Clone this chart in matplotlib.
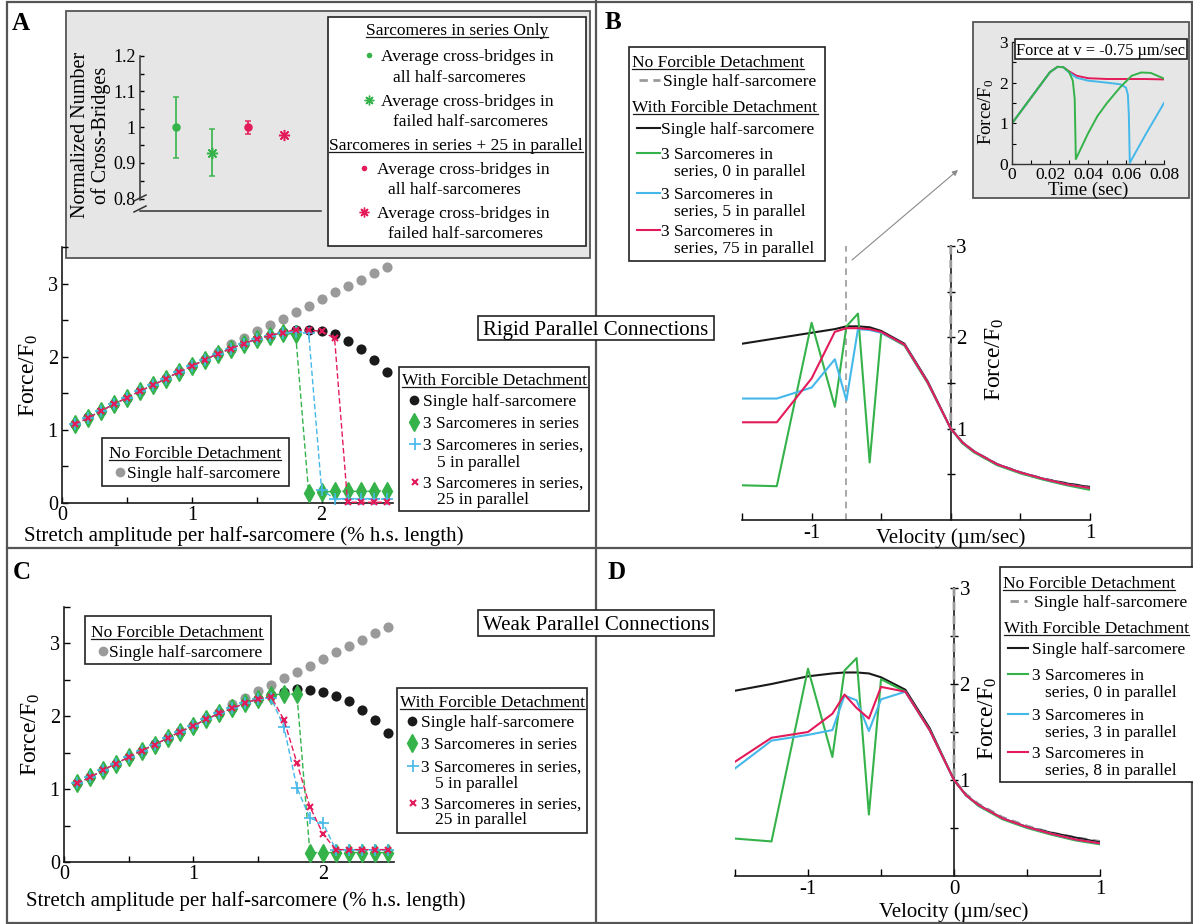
import matplotlib
matplotlib.use("Agg")
import matplotlib.pyplot as plt
from matplotlib.patches import Rectangle

plt.rcParams["font.family"] = ["Liberation Serif", "DejaVu Serif"]
plt.rcParams["mathtext.fontset"] = "custom"
plt.rcParams["mathtext.rm"] = "Liberation Serif"
plt.rcParams["mathtext.it"] = "Liberation Serif:italic"

GRAY = "#9a9a9a"
GREEN = "#35b34a"
CYAN = "#45b8ea"
RED = "#e31b5b"
INK = "#1a1a1a"

# ---- stretch simulations (panels A and C) ----
stretch = [0.1, 0.2, 0.3, 0.4, 0.5, 0.6, 0.7, 0.8, 0.9, 1.0, 1.1, 1.2, 1.3,
           1.4, 1.5, 1.6, 1.7, 1.8, 1.9, 2.0, 2.1, 2.2, 2.3, 2.4, 2.5]

rigid_nofd = [1.08, 1.17, 1.26, 1.35, 1.44, 1.53, 1.62, 1.71, 1.80, 1.88, 1.97, 2.06, 2.17,
              2.25, 2.35, 2.43, 2.52, 2.61, 2.69, 2.79, 2.88, 2.97, 3.05, 3.14, 3.23]
rigid_single = [1.08, 1.17, 1.26, 1.35, 1.44, 1.53, 1.62, 1.70, 1.79, 1.87, 1.96, 2.04, 2.11,
                2.18, 2.24, 2.29, 2.34, 2.37, 2.37, 2.35, 2.31, 2.22, 2.11, 1.96, 1.79]
rigid_series = [1.08, 1.16, 1.26, 1.35, 1.44, 1.53, 1.61, 1.70, 1.79, 1.87, 1.96, 2.04, 2.11,
                2.18, 2.24, 2.29, 2.32, 2.31, 0.14, 0.15, 0.16, 0.16, 0.16, 0.16, 0.17]
rigid_par5 = [1.08, 1.16, 1.26, 1.35, 1.44, 1.53, 1.61, 1.70, 1.79, 1.87, 1.96, 2.04, 2.11,
              2.18, 2.24, 2.29, 2.33, 2.34, 2.33, 0.18, 0.06, 0.06, 0.06, 0.06, 0.06]
rigid_par25 = [1.08, 1.16, 1.26, 1.35, 1.44, 1.53, 1.61, 1.70, 1.79, 1.87, 1.96, 2.04, 2.11,
               2.18, 2.24, 2.29, 2.33, 2.37, 2.36, 2.35, 2.25, 0.01, 0.01, 0.01, 0.01]

weak_nofd = [1.08, 1.17, 1.26, 1.35, 1.44, 1.53, 1.62, 1.71, 1.80, 1.88, 1.97, 2.06, 2.17,
             2.25, 2.35, 2.43, 2.52, 2.61, 2.69, 2.79, 2.88, 2.97, 3.05, 3.14, 3.23]
weak_single = [1.08, 1.17, 1.26, 1.35, 1.44, 1.53, 1.62, 1.70, 1.79, 1.87, 1.96, 2.04, 2.11,
               2.18, 2.24, 2.29, 2.34, 2.37, 2.36, 2.33, 2.28, 2.21, 2.09, 1.95, 1.77]
weak_series = [1.08, 1.16, 1.26, 1.35, 1.44, 1.53, 1.61, 1.70, 1.79, 1.87, 1.96, 2.04, 2.11,
               2.18, 2.24, 2.29, 2.31, 2.30, 0.13, 0.13, 0.13, 0.13, 0.13, 0.13, 0.13]
weak_par5 = [1.08, 1.16, 1.26, 1.35, 1.44, 1.53, 1.61, 1.70, 1.79, 1.87, 1.96, 2.04, 2.11,
             2.18, 2.24, 2.25, 1.85, 1.02, 0.60, 0.54, 0.17, 0.17, 0.17, 0.17, 0.17]
weak_par25 = [1.08, 1.16, 1.26, 1.35, 1.44, 1.53, 1.61, 1.70, 1.79, 1.87, 1.96, 2.04, 2.11,
              2.18, 2.24, 2.27, 1.95, 1.36, 0.76, 0.39, 0.17, 0.17, 0.17, 0.17, 0.17]

# ---- cross-bridge counts (inset of A) ----
cb_pos = [1, 2, 3, 4]
cb_mean = [1.0, 0.929, 1.0, 0.979]
cb_err = [0.085, 0.065, 0.018, 0.0]

# ---- force-velocity (panels B and D) ----
velocity = [-1.5, -1.25, -1.0, -0.833, -0.75, -0.667, -0.583, -0.5, -0.333, -0.167,
            0.0, 0.083, 0.167, 0.333, 0.5, 0.667, 0.833, 1.0]
nofd_velocity = [0.0, 0.0, 0.083, 0.167, 0.333, 0.5, 0.667, 0.833, 1.0]
nofd_force = [3.0, 1.0, 0.85, 0.75, 0.61, 0.52, 0.45, 0.40, 0.36]

rigid_fv_single = [1.93, 1.99, 2.05, 2.09, 2.12, 2.12, 2.11, 2.07, 1.93, 1.52,
                   1.0, 0.85, 0.75, 0.61, 0.52, 0.45, 0.40, 0.36]
rigid_fv_par0 = [0.38, 0.37, 2.16, 1.24, 2.12, 2.26, 0.63, 2.05, 1.91, 1.50,
                 1.0, 0.84, 0.74, 0.60, 0.51, 0.44, 0.38, 0.33]
rigid_fv_par5 = [1.33, 1.33, 1.45, 1.76, 1.31, 2.09, 2.08, 2.05, 1.92, 1.51,
                 1.0, 0.85, 0.75, 0.61, 0.52, 0.45, 0.39, 0.35]
rigid_fv_par75 = [1.07, 1.07, 1.55, 2.06, 2.10, 2.10, 2.09, 2.06, 1.92, 1.51,
                  1.0, 0.85, 0.75, 0.61, 0.52, 0.45, 0.39, 0.35]

weak_fv_single = [1.93, 2.00, 2.08, 2.11, 2.12, 2.12, 2.11, 2.07, 1.94, 1.54,
                  1.0, 0.84, 0.74, 0.60, 0.51, 0.45, 0.40, 0.35]
weak_fv_par0 = [0.39, 0.36, 2.16, 1.24, 2.14, 2.27, 0.64, 2.05, 1.92, 1.52,
                1.0, 0.84, 0.73, 0.59, 0.50, 0.43, 0.37, 0.33]
weak_fv_par3 = [1.12, 1.41, 1.47, 1.52, 1.88, 1.83, 1.51, 1.84, 1.92, 1.52,
                1.0, 0.84, 0.74, 0.60, 0.51, 0.44, 0.38, 0.34]
weak_fv_par8 = [1.19, 1.44, 1.50, 1.69, 1.89, 1.75, 1.64, 1.97, 1.92, 1.52,
                1.0, 0.84, 0.74, 0.60, 0.51, 0.44, 0.38, 0.34]

# ---- force transients at a single lengthening velocity (inset of B) ----
inset_velocity = -0.75
t_par0 = [0.0, 0.01, 0.02, 0.024, 0.027, 0.03, 0.032, 0.033, 0.0336, 0.04, 0.045,
          0.05, 0.057, 0.063, 0.068, 0.073, 0.08]
f_par0 = [1.0, 1.63, 2.26, 2.39, 2.38, 2.27, 2.05, 1.6, 0.12, 0.75, 1.18,
          1.50, 1.89, 2.17, 2.25, 2.24, 2.10]
t_par5 = [0.0, 0.01, 0.02, 0.024, 0.027, 0.03, 0.034, 0.04, 0.05, 0.057, 0.06,
          0.061, 0.0615, 0.062, 0.07, 0.08]
f_par5 = [1.0, 1.63, 2.26, 2.39, 2.38, 2.25, 2.12, 2.05, 2.00, 1.96, 1.88,
          1.70, 1.2, 0.03, 0.70, 1.50]
t_par75 = [0.0, 0.01, 0.02, 0.024, 0.027, 0.03, 0.034, 0.04, 0.05, 0.06, 0.07, 0.08]
f_par75 = [1.0, 1.63, 2.26, 2.39, 2.38, 2.28, 2.17, 2.11, 2.09, 2.09, 2.09, 2.08]

W, H = 1193, 924
fig = plt.figure(figsize=(W / 100, H / 100), dpi=100)


def frac(x0, y0, x1, y1):
    return [x0 / W, 1 - y1 / H, (x1 - x0) / W, (y1 - y0) / H]


def page_axes(z):
    a = fig.add_axes([0, 0, 1, 1], zorder=z)
    a.set_xlim(0, W)
    a.set_ylim(H, 0)
    a.axis("off")
    return a


under = page_axes(-5)
ov = page_axes(20)

# panel frame
under.add_patch(Rectangle((7, 1.5), 1185, 921, fill=False, ec="#555555", lw=1.6))
under.plot([596, 596], [0, 924], color="#555555", lw=1.6)
under.plot([7, 1193], [548, 548], color="#555555", lw=1.6)
# grey backgrounds of the two insets
under.add_patch(Rectangle((66, 11), 524, 247, fc="#e6e6e6", ec="#555555", lw=1.3))
under.add_patch(Rectangle((973, 22), 216, 176, fc="#e6e6e6", ec="#555555", lw=1.3))

underlined = []


def box(x0, y0, x1, y1):
    ov.add_patch(Rectangle((x0, y0), x1 - x0, y1 - y0, fc="white",
                           ec="#222222", lw=1.2, zorder=1, clip_on=False))


def label(x, y, s, size=12.5, ha="left", underline=False):
    t = ov.text(x, y + 0.34 * size * 100 / 72, s, fontsize=size, ha=ha,
                va="baseline", zorder=3)
    if underline:
        underlined.append(t)
    return t


def swatch(x, y, **kw):
    ov.plot([x], [y], linestyle="none", clip_on=False, zorder=3, **kw)


def line_swatch(x0, x1, y, **kw):
    ov.plot([x0, x1], [y, y], clip_on=False, zorder=3, **kw)


def style_stretch(ax, xlabel_y):
    ax.set_facecolor("none")
    ax.set_xlim(0, 2.55)
    ax.set_ylim(0, 3.5)
    for s in ["top", "right"]:
        ax.spines[s].set_visible(False)
    for s in ["left", "bottom"]:
        ax.spines[s].set_linewidth(1.2)
        ax.spines[s].set_color(INK)
    ax.set_xticks([0, 0.5, 1, 1.5, 2, 2.5], ["0", "", "1", "", "2", ""])
    ax.set_yticks([0, 0.5, 1, 1.5, 2, 2.5, 3, 3.5],
                  ["0", "", "1", "", "2", "", "3", ""])
    ax.tick_params(direction="in", length=4, width=1, labelsize=14.5, pad=3)
    ax.tick_params(axis="x", pad=2)
    ax.set_xlabel("Stretch amplitude per half-sarcomere (% h.s. length)", fontsize=15)
    ax.xaxis.set_label_coords(0.55, xlabel_y)
    ax.set_ylabel("Force/F$_0$", fontsize=17)
    ax.yaxis.set_label_coords(-0.066, 0.5)


def plot_stretch(ax, nofd, single, series, par5, par25):
    dash = (0, (4, 2))
    ax.plot(stretch, nofd, "o", color=GRAY, ms=7.3, mec="none", zorder=2, clip_on=False)
    ax.plot(stretch, single, "o", color=INK, ms=7.3, mec="none", zorder=3, clip_on=False)
    ax.plot(stretch, series, color=GREEN, ls=dash, lw=1, marker="d", ms=9,
            mec=GREEN, zorder=4, clip_on=False)
    ax.plot(stretch, par5, color=CYAN, ls=dash, lw=1, marker="+", ms=9, mew=1.2,
            zorder=5, clip_on=False)
    ax.plot(stretch, par25, color=RED, ls=dash, lw=1, marker="x", ms=4, mew=1.5,
            zorder=6, clip_on=False)


def style_velocity(ax, xticklabels, xlabel_y, ylab_xy):
    ax.set_facecolor("none")
    ax.set_xlim(-1.5, 1)
    ax.set_ylim(0, 3)
    ax.spines["top"].set_visible(False)
    ax.spines["left"].set_visible(False)
    ax.spines["right"].set_position(("data", 0))
    for s in ["right", "bottom"]:
        ax.spines[s].set_linewidth(1.2)
        ax.spines[s].set_color(INK)
    ax.yaxis.set_ticks_position("right")
    ax.set_yticks([0.5, 1, 1.5, 2, 2.5, 3], ["", "1", "", "2", "", "3"])
    ax.tick_params(axis="y", direction="inout", length=6, width=1, labelsize=15, pad=1)
    ax.set_xticks([-1.5, -1, -0.5, 0, 0.5, 1], xticklabels)
    ax.tick_params(axis="x", direction="in", length=5, width=1, labelsize=15, pad=3)
    ax.set_xlabel("Velocity (µm/sec)", fontsize=15)
    ax.xaxis.set_label_coords(0.6, xlabel_y)
    ax.text(ylab_xy[0], ylab_xy[1], "Force/F$_0$", rotation=90, fontsize=17,
            ha="center", va="center", transform=ax.transAxes)


def plot_velocity(ax, single, par0, parA, parB):
    ax.plot(nofd_velocity, nofd_force, color=GRAY, ls=(0, (3, 2)), lw=2, zorder=3,
            clip_on=False)
    ax.plot(velocity, single, color=INK, lw=1.5, zorder=4)
    ax.plot(velocity, par0, color=GREEN, lw=1.5, zorder=5)
    ax.plot(velocity, parA, color=CYAN, lw=1.5, zorder=6)
    ax.plot(velocity, parB, color=RED, lw=1.5, zorder=7)


# ================= Panel A =================
axA = fig.add_axes(frac(62, 247, 393, 503))
style_stretch(axA, -0.092)
plot_stretch(axA, rigid_nofd, rigid_single, rigid_series, rigid_par5, rigid_par25)

# inset: normalized number of cross-bridges
axI = fig.add_axes(frac(140, 55.7, 321, 211))
axI.set_facecolor("none")
axI.set_xlim(0, 5.03)
axI.set_ylim(0.7655, 1.2)
axI.spines["top"].set_visible(False)
axI.spines["right"].set_visible(False)
axI.spines["left"].set_bounds(0.795, 1.2)
for s in ["left", "bottom"]:
    axI.spines[s].set_linewidth(1.1)
    axI.spines[s].set_color("#333333")
axI.set_xticks([])
axI.set_yticks([0.8, 0.85, 0.9, 0.95, 1.0, 1.05, 1.1, 1.15, 1.2],
               ["0.8", "", "0.9", "", "1", "", "1.1", "", "1.2"])
axI.tick_params(axis="y", direction="in", length=3, width=1, labelsize=13, pad=3)
asterisk = (8, 2, 0)
cb_colors = [GREEN, GREEN, RED, RED]
cb_markers = ["o", asterisk, "o", asterisk]
cb_sizes = [5, 8, 5, 8]
for x, m, e, c, mk, ms in zip(cb_pos, cb_mean, cb_err, cb_colors, cb_markers, cb_sizes):
    if e > 0:
        axI.errorbar([x], [m], yerr=[e], fmt="none", ecolor=c,
                     elinewidth=1.4, capsize=2.5, capthick=1.2, alpha=0.85)
    axI.plot([x], [m], linestyle="none", marker=mk, color=c, mec=c, ms=ms, mew=1.1)
# axis break
ov.plot([134, 146], [201, 195], color="#333333", lw=1.1)
ov.plot([134, 146], [212, 206], color="#333333", lw=1.1)
ov.text(91, 135, "Normalized Number\nof Cross-Bridges", rotation=90, fontsize=14.5,
        ha="center", va="center", linespacing=1.05)

box(328, 17, 586, 246)
label(457, 29, "Sarcomeres in series Only", ha="center", underline=True)
swatch(369, 55, marker="o", color=GREEN, ms=4, mec="none")
label(381, 55, "Average cross-bridges in")
label(393, 76, "all half-sarcomeres")
swatch(369, 100, marker=asterisk, color=GREEN, ms=7, mew=1)
label(381, 100, "Average cross-bridges in")
label(393, 120, "failed half-sarcomeres")
label(456, 144, "Sarcomeres in series + 25 in parallel", ha="center", underline=True)
swatch(364, 168, marker="o", color=RED, ms=4, mec="none")
label(377, 168, "Average cross-bridges in")
label(388, 188, "all half-sarcomeres")
swatch(364, 212, marker=asterisk, color=RED, ms=7, mew=1)
label(377, 212, "Average cross-bridges in")
label(388, 232, "failed half-sarcomeres")

# legends of A
box(102, 438, 289, 486)
label(195, 452, "No Forcible Detachment", ha="center", underline=True)
swatch(120, 472, marker="o", color=GRAY, ms=7, mec="none")
label(127, 472, "Single half-sarcomere")

box(399, 367, 589, 511)
label(494, 379, "With Forcible Detachment", ha="center", underline=True)
swatch(414, 400, marker="o", color=INK, ms=7, mec="none")
label(423, 400, "Single half-sarcomere")
swatch(414, 422, marker="d", color=GREEN, ms=9)
label(423, 422, "3 Sarcomeres in series")
swatch(415, 444, marker="+", color=CYAN, ms=9, mew=1.2)
label(423, 444, "3 Sarcomeres in series,")
label(437, 461, "5 in parallel")
swatch(415, 482, marker="x", color=RED, ms=4, mew=1.5)
label(423, 482, "3 Sarcomeres in series,")
label(437, 498, "25 in parallel")

# ================= Panel C =================
axC = fig.add_axes(frac(64, 607, 394, 862))
style_stretch(axC, -0.114)
plot_stretch(axC, weak_nofd, weak_single, weak_series, weak_par5, weak_par25)

box(85, 616, 271, 664)
label(177, 631, "No Forcible Detachment", ha="center", underline=True)
swatch(103, 651, marker="o", color=GRAY, ms=7, mec="none")
label(109, 651, "Single half-sarcomere")

box(397, 688, 587, 833)
label(492, 701, "With Forcible Detachment", ha="center", underline=True)
swatch(412, 721, marker="o", color=INK, ms=7, mec="none")
label(421, 721, "Single half-sarcomere")
swatch(412, 743, marker="d", color=GREEN, ms=9)
label(421, 743, "3 Sarcomeres in series")
swatch(413, 766, marker="+", color=CYAN, ms=9, mew=1.2)
label(421, 766, "3 Sarcomeres in series,")
label(435, 782, "5 in parallel")
swatch(413, 803, marker="x", color=RED, ms=4, mew=1.5)
label(421, 803, "3 Sarcomeres in series,")
label(435, 818, "25 in parallel")

# ================= Panel B =================
axB = fig.add_axes(frac(742, 246, 1090, 520))
style_velocity(axB, ["", "-1", "", "", "", "1"], -0.03, (0.727, 0.588))
plot_velocity(axB, rigid_fv_single, rigid_fv_par0, rigid_fv_par5, rigid_fv_par75)
axB.plot([inset_velocity, inset_velocity], [0, 3.0], color=GRAY, ls=(0, (4, 3)),
         lw=1.2, zorder=2)

box(629, 47, 825, 261)
label(718, 61, "No Forcible Detachment", ha="center", underline=True)
line_swatch(639, 660, 80, color=GRAY, lw=2, ls=(0, (3, 2)))
label(663, 80, "Single half-sarcomere")
label(725, 106, "With Forcible Detachment", ha="center", underline=True)
line_swatch(637, 660, 128, color=INK, lw=1.5)
label(661, 128, "Single half-sarcomere")
for y, c, n in [(153, GREEN, 0), (193, CYAN, 5), (230, RED, 75)]:
    line_swatch(637, 660, y, color=c, lw=1.5)
    label(661, y, "3 Sarcomeres in")
    label(674, y + 17, f"series, {n} in parallel")

# inset: force transient
axT = fig.add_axes(frac(1012, 42, 1164, 164))
axT.set_facecolor("none")
axT.set_xlim(0, 0.08)
axT.set_ylim(0, 3)
axT.spines["top"].set_visible(False)
axT.spines["right"].set_visible(False)
for s in ["left", "bottom"]:
    axT.spines[s].set_linewidth(1.0)
    axT.spines[s].set_color("#333333")
axT.set_xticks([0, 0.01, 0.02, 0.03, 0.04, 0.05, 0.06, 0.07, 0.08],
               ["0", "", "0.02", "", "0.04", "", "0.06", "", "0.08"])
axT.set_yticks([0, 0.5, 1, 1.5, 2, 2.5, 3], ["0", "", "1", "", "2", "", "3"])
axT.tick_params(direction="in", length=3, width=0.8, labelsize=12.5)
axT.tick_params(axis="x", pad=2)
axT.tick_params(axis="y", pad=3)
axT.plot(t_par75, f_par75, color=RED, lw=1.4)
axT.plot(t_par5, f_par5, color=CYAN, lw=1.4)
axT.plot(t_par0, f_par0, color=GREEN, lw=1.4)
axT.set_xlabel("Time (sec)", fontsize=13.5, labelpad=-1)
ov.text(986, 112, "Force/F$_0$", rotation=90, fontsize=13.5, ha="center", va="center")
box(1015, 39, 1187, 59)
label(1101, 49, f"Force at v = {inset_velocity} µm/sec", size=11.8, ha="center")

ov.annotate("", xy=(958, 170), xytext=(852, 260),
            arrowprops=dict(arrowstyle="-|>", color="#8a8a8a", lw=0.8,
                            mutation_scale=8, shrinkA=0, shrinkB=0))

# ================= Panel D =================
axD = fig.add_axes(frac(735, 588, 1100, 876))
style_velocity(axD, ["", "-1", "", "0", "", "1"], -0.09, (0.693, 0.549))
plot_velocity(axD, weak_fv_single, weak_fv_par0, weak_fv_par3, weak_fv_par8)

box(1000, 567, 1200, 782)
label(1089, 582, "No Forcible Detachment", ha="center", underline=True)
line_swatch(1010, 1027, 601, color=GRAY, lw=2, ls=(0, (3, 2)))
label(1034, 601, "Single half-sarcomere")
label(1096, 627, "With Forcible Detachment", ha="center", underline=True)
line_swatch(1008, 1028, 648, color=INK, lw=1.5)
label(1032, 648, "Single half-sarcomere")
for y, c, n in [(674, GREEN, 0), (714, CYAN, 3), (752, RED, 8)]:
    line_swatch(1008, 1028, y, color=c, lw=1.5)
    label(1032, y, "3 Sarcomeres in")
    label(1045, y + 17, f"series, {n} in parallel")

# ================= shared labels =================
box(478, 316, 714, 340)
label(596, 328, "Rigid Parallel Connections", size=15, ha="center")
box(478, 610, 714, 636)
label(596, 623, "Weak Parallel Connections", size=15, ha="center")

for letter, x, y in [("A", 12, 12), ("B", 605, 11), ("C", 13, 561), ("D", 608, 561)]:
    ov.text(x, y, letter, fontsize=18, fontweight="bold", ha="left", va="top")

renderer = fig.canvas.get_renderer()
for t in underlined:
    bb = t.get_window_extent(renderer)
    yb = t.get_position()[1] + 2
    ov.plot([bb.x0, bb.x1], [yb, yb], color=INK, lw=0.9, zorder=3)

fig.savefig("out.png", dpi=100)
